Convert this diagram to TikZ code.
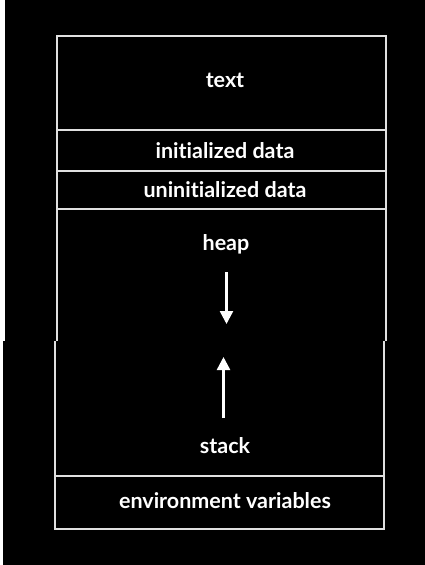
\documentclass[tikz,border=0pt]{standalone}
\usepackage{fontspec}
\setmainfont[Ligatures=NoCommon]{Lato}
\usetikzlibrary{arrows.meta}
\tikzset{
  seg/.style={draw=white!88!black, line width=2pt},
  lbl/.style={text=white, font=\fontsize{21.5}{24}\selectfont\bfseries, inner sep=0pt},
  growth/.style={draw=white, line width=2.4pt, -{Triangle[width=13pt,length=13pt]}},
}
\begin{document}
\begin{tikzpicture}[x=1pt,y=-1pt]
  % page with black background and the light strip on the left
  \useasboundingbox (0,0) rectangle (425,565);
  \fill[black] (0,0) rectangle (425,565);
  \fill[white] (0,0) rectangle (5,341);
  \fill[white] (0,341) rectangle (3,565);

  % upper half of the memory layout
  \draw[seg] (57,341) -- (57,36) -- (386,36) -- (386,341);
  \draw[seg] (57,130) -- (386,130);
  \draw[seg] (57,171) -- (386,171);
  \draw[seg] (57,209) -- (386,209);

  % lower half of the memory layout
  \draw[seg] (54.5,341) -- (54.5,529) -- (383.5,529) -- (383.5,341);
  \draw[seg] (54.5,476) -- (383.5,476);

  % segment labels
  \node[lbl] (txt)   at (225,80)  {text};
  \node[lbl] (init)  at (225,151) {initialized data};
  \node[lbl] (uninit) at (225,190) {uninitialized data};
  \node[lbl] (heap)  at (226,244) {heap};
  \node[lbl] (stack) at (225,446) {stack};
  \node[lbl] (env)   at (225,501) {environment variables};

  % heap grows down, stack grows up
  \coordinate (heapstart) at (226.5,272);
  \coordinate (heapend)   at (226.5,324);
  \coordinate (stackstart) at (223.5,418);
  \coordinate (stackend)   at (223.5,357);
  \draw[growth] (heapstart) -- (heapend);
  \draw[growth] (stackstart) -- (stackend);
\end{tikzpicture}
\end{document}
